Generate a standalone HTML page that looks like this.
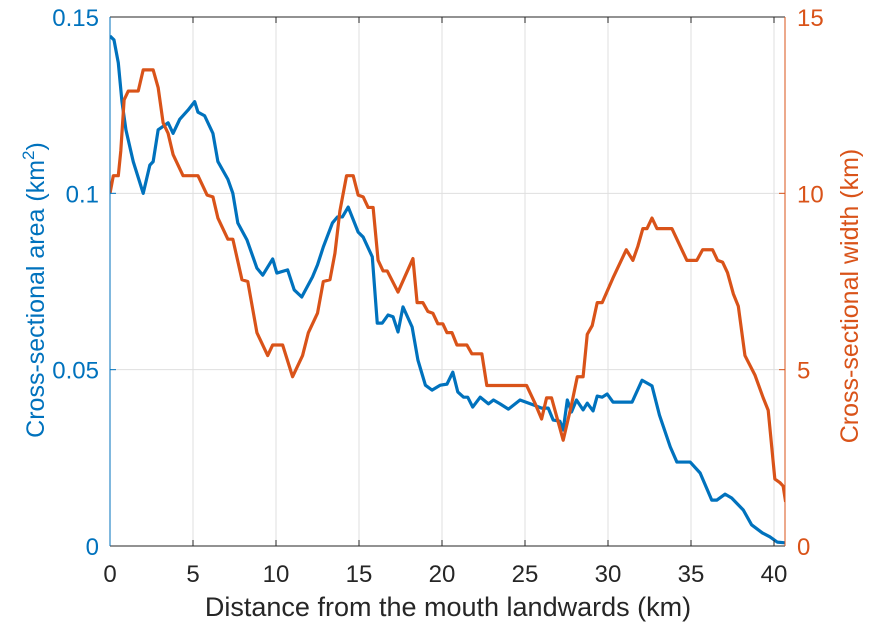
<!DOCTYPE html>
<html><head><meta charset="utf-8"><style>
body{margin:0;background:#fff}
svg text{font-family:"Liberation Sans",sans-serif}
</style></head><body>
<svg id="chart" width="873" height="632" viewBox="0 0 873 632" xmlns="http://www.w3.org/2000/svg">
<g id="grid"></g>
<g id="series"></g>
<g id="axes"></g>
<text x="448" y="616" text-anchor="middle" font-size="27" fill="#262626">Distance from the mouth landwards (km)</text>
<text transform="translate(44,290) rotate(-90)" text-anchor="middle" font-size="25" fill="#0072BD">Cross-sectional area (km<tspan font-size="17" dy="-10">2</tspan><tspan dy="10">)</tspan></text>
<text transform="translate(858,296) rotate(-90)" text-anchor="middle" font-size="25" fill="#D95319">Cross-sectional width (km)</text>
</svg>
<script>
const xTicks=[0,5,10,15,20,25,30,35,40];
const leftTicks=[0,0.05,0.1,0.15];
const leftTickLabels=["0","0.05","0.1","0.15"];
const rightTicks=[0,5,10,15];
const rightTickLabels=["0","5","10","15"];
const areaX=[0,0.24,0.5,0.72,0.96,1.4,2.0,2.4,2.6,2.9,3.5,3.8,4.2,4.7,5.1,5.3,5.7,6.2,6.5,7.1,7.4,7.7,8.25,8.85,9.2,9.8,10.05,10.7,11.1,11.55,12.2,12.5,12.85,13.4,13.7,14.0,14.35,14.95,15.25,15.8,16.1,16.4,16.75,17.05,17.35,17.65,18.2,18.55,19.0,19.4,19.9,20.3,20.65,20.95,21.3,21.55,21.85,22.3,22.8,23.1,23.5,24.0,24.7,25.5,26.0,26.4,26.7,27.1,27.3,27.55,27.8,28.1,28.5,28.75,29.1,29.35,29.65,29.95,30.3,31.45,32.05,32.65,33.1,33.75,34.15,34.95,35.55,36.25,36.55,37.05,37.45,38.15,38.65,39.3,39.75,40.2,40.65];
const areaY=[0.1446,0.1435,0.137,0.126,0.118,0.109,0.100,0.108,0.109,0.118,0.120,0.117,0.121,0.1236,0.126,0.123,0.122,0.117,0.109,0.104,0.100,0.0916,0.0868,0.0788,0.0768,0.0814,0.0774,0.0783,0.0726,0.0706,0.0763,0.0797,0.0848,0.0916,0.0933,0.0933,0.0961,0.089,0.0876,0.082,0.0632,0.0632,0.0655,0.065,0.0607,0.0678,0.0621,0.0527,0.0456,0.0442,0.0456,0.0459,0.0493,0.0437,0.0422,0.0422,0.0394,0.0422,0.0403,0.0414,0.0403,0.0388,0.0414,0.04,0.0391,0.0391,0.0357,0.0354,0.0329,0.0414,0.038,0.0414,0.0386,0.0405,0.0383,0.0425,0.0422,0.0431,0.0408,0.0408,0.047,0.0454,0.0371,0.0281,0.0238,0.0238,0.0207,0.013,0.013,0.0147,0.0136,0.0102,0.006,0.0037,0.0026,0.0011,0.0009];
const widthX=[0,0.2,0.5,0.65,0.85,1.1,1.7,2.0,2.6,2.9,3.2,3.5,3.8,4.4,5.3,5.85,6.2,6.5,7.1,7.4,7.95,8.3,8.85,9.5,9.8,10.4,11.0,11.6,11.95,12.5,12.85,13.25,13.55,13.85,14.25,14.65,14.95,15.25,15.55,15.85,16.15,16.45,16.7,17.35,18.25,18.5,18.85,19.15,19.45,19.75,20.05,20.3,20.6,20.9,21.5,21.8,22.4,22.7,25.1,25.6,26.0,26.3,26.6,27.3,27.8,28.15,28.5,28.75,29.05,29.35,29.65,30.3,31.1,31.5,31.8,32.1,32.35,32.65,32.95,33.85,34.75,35.35,35.7,36.3,36.6,36.9,37.2,37.55,37.85,38.25,38.85,39.35,39.65,40.05,40.35,40.55,40.7];
const widthY=[10.0,10.5,10.5,11.2,12.65,12.9,12.9,13.5,13.5,13.0,12.0,11.7,11.1,10.5,10.5,9.95,9.9,9.3,8.7,8.7,7.55,7.5,6.05,5.4,5.7,5.7,4.8,5.4,6.05,6.6,7.5,7.55,8.3,9.5,10.5,10.5,9.95,9.9,9.6,9.6,8.1,7.8,7.8,7.2,8.15,6.9,6.9,6.65,6.6,6.3,6.3,6.05,6.05,5.7,5.7,5.45,5.45,4.55,4.55,4.05,3.6,4.2,4.2,3.0,4.0,4.8,4.8,6.0,6.25,6.9,6.9,7.6,8.4,8.1,8.5,9.0,9.0,9.3,9.0,9.0,8.1,8.1,8.4,8.4,8.1,8.05,7.75,7.15,6.8,5.4,4.85,4.2,3.85,1.9,1.8,1.7,1.25];

const L=110,R=785,T=17,B=546;
const sx=v=>L+v*16.6;
const syL=v=>B-(v/0.15)*(B-T);
const syR=v=>B-(v/15)*(B-T);
const NS="http://www.w3.org/2000/svg";
function mk(tag,attrs,parent){const e=document.createElementNS(NS,tag);for(const k in attrs)e.setAttribute(k,attrs[k]);parent.appendChild(e);return e;}
const grid=document.getElementById('grid'),series=document.getElementById('series'),axes=document.getElementById('axes');
mk('rect',{x:L,y:T,width:R-L,height:B-T,fill:'#fff'},grid);
xTicks.forEach((t,i)=>{const x=sx(t);
 const g=mk('line',{x1:x,x2:x,y1:T,y2:B,stroke:'#dfdfdf','stroke-width':1},grid);
 
 
 mk('line',{x1:x,x2:x,y1:B,y2:B-6,stroke:'#262626'},axes);
 mk('line',{x1:x,x2:x,y1:T,y2:T+6,stroke:'#262626'},axes);
 const tx=mk('text',{x:x,y:B+36,'text-anchor':'middle','font-size':24,fill:'#262626'},axes);
 tx.textContent=String(t);
 
 
});
leftTicks.forEach((t,i)=>{const y=syL(t);
 const g=mk('line',{x1:L,x2:R,y1:y,y2:y,stroke:'#dfdfdf','stroke-width':1},grid);
 
 
 mk('line',{x1:L,x2:L+6,y1:y,y2:y,stroke:'#0072BD'},axes);
 const tx=mk('text',{x:L-11,y:y+9,'text-anchor':'end','font-size':24,fill:'#0072BD'},axes);
 tx.textContent=leftTickLabels[i];
 
 
});
rightTicks.forEach((t,i)=>{const y=syR(t);
 mk('line',{x1:R,x2:R-6,y1:y,y2:y,stroke:'#D95319'},axes);
 const tx=mk('text',{x:R+12,y:y+9,'text-anchor':'start','font-size':24,fill:'#D95319'},axes);
 tx.textContent=rightTickLabels[i];
 
 
});
mk('line',{x1:L,x2:R,y1:T,y2:T,stroke:'#262626'},axes);
mk('line',{x1:L,x2:R,y1:B,y2:B,stroke:'#262626'},axes);
mk('line',{x1:L,x2:L,y1:T,y2:B,stroke:'#0072BD'},axes);
mk('line',{x1:R,x2:R,y1:T,y2:B,stroke:'#D95319'},axes);
const cp=mk('clipPath',{id:'clip'},series);mk('rect',{x:L,y:T-2,width:R-L,height:B-T+4},cp);
const p1=mk('polyline',{points:areaX.map((x,i)=>sx(x)+','+syL(areaY[i])).join(' '),fill:'none',stroke:'#0072BD','stroke-width':3.2,'stroke-linejoin':'round','clip-path':'url(#clip)'},series);


const p2=mk('polyline',{points:widthX.map((x,i)=>sx(x)+','+syR(widthY[i])).join(' '),fill:'none',stroke:'#D95319','stroke-width':3.2,'stroke-linejoin':'round','clip-path':'url(#clip)'},series);


</script>
</body></html>
